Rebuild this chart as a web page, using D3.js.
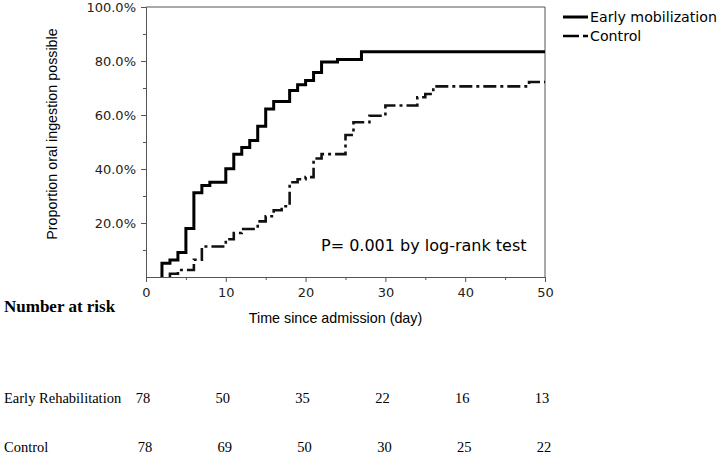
<!DOCTYPE html>
<html>
<head>
<meta charset="utf-8">
<script src="https://cdn.jsdelivr.net/npm/d3@7"></script>
<style>
  body { margin: 0; background: #fff; }
  svg { display: block; }
  .tick text { font-family: "DejaVu Sans", Verdana, sans-serif; font-size: 13px; fill: #222; }
  .axis path, .axis line { stroke: #555; }
</style>
</head>
<body>
<div id="chart"></div>
<script>
// ---- data ----
const earlyDays = [2, 3, 4, 5, 6, 7, 8, 10, 11, 12, 13, 14, 15, 16, 18, 19, 20, 21, 22, 24, 27, 50];
const earlyPct  = [5.1, 6.3, 9.1, 18.0, 31.2, 33.9, 35.1, 40.1, 45.5, 48.0, 50.6, 55.8, 62.2, 65.0, 69.1, 71.2, 72.8, 75.7, 79.6, 80.6, 83.4, 83.4];

const controlDays = [3, 4, 6, 7, 10, 11, 12, 14, 15, 16, 17, 18, 19, 20, 21, 22, 25, 26, 28, 30, 34, 35, 36, 48, 50];
const controlPct  = [1.2, 2.6, 6.4, 11.3, 14.0, 16.3, 17.8, 20.6, 22.5, 24.7, 26.2, 35.1, 36.2, 37.0, 43.9, 45.5, 52.6, 57.3, 59.7, 63.5, 66.6, 67.8, 70.6, 72.2, 72.2];

const yTicks = [20, 40, 60, 80, 100];
const yMinor = [10, 30, 50, 70, 90];
const xTicks = [0, 10, 20, 30, 40, 50];
const xMinor = [5, 15, 25, 35, 45];

const riskDays = [0, 10, 20, 30, 40, 50];
const riskEarly = [78, 50, 35, 22, 16, 13];
const riskControl = [78, 69, 50, 30, 25, 22];

const legendLabels = ["Early mobilization", "Control"];

// ---- layout ----
const width = 722, height = 458;
const plot = { left: 146, right: 545, top: 7, bottom: 277 };

const svg = d3.select("#chart").append("svg")
  .attr("width", width)
  .attr("height", height);

const x = d3.scaleLinear().domain([0, 50]).range([plot.left, plot.right]);
const y = d3.scaleLinear().domain([0, 100]).range([plot.bottom, plot.top]);

// frame (top + right)
svg.append("path")
  .attr("d", `M${plot.left},${plot.top}H${plot.right}V${plot.bottom}`)
  .attr("fill", "none")
  .attr("stroke", "#555")
  .attr("stroke-width", 1);

// axes
svg.append("g")
  .attr("class", "axis")
  .attr("transform", `translate(0,${plot.bottom})`)
  .call(d3.axisBottom(x).tickValues(xTicks).tickSize(5).tickPadding(6).tickSizeOuter(0));

svg.append("g")
  .attr("class", "axis")
  .attr("transform", `translate(0,${plot.bottom})`)
  .call(d3.axisBottom(x).tickValues(xMinor).tickSize(3).tickFormat("").tickSizeOuter(0));

svg.append("g")
  .attr("class", "axis")
  .attr("transform", `translate(${plot.left},0)`)
  .call(d3.axisLeft(y).tickValues(yTicks).tickSize(5).tickPadding(5).tickSizeOuter(0)
    .tickFormat((d) => d.toFixed(1) + "%"));

svg.append("g")
  .attr("class", "axis")
  .attr("transform", `translate(${plot.left},0)`)
  .call(d3.axisLeft(y).tickValues(yMinor).tickSize(3).tickFormat("").tickSizeOuter(0));

// axis titles
svg.append("text")
  .attr("x", (plot.left + plot.right) / 2 - 10)
  .attr("y", 323)
  .attr("text-anchor", "middle")
  .style("font-family", "'Liberation Sans', Arial, sans-serif")
  .style("font-size", "14.3px")
  .text("Time since admission (day)");

svg.append("text")
  .attr("transform", "translate(57,134) rotate(-90)")
  .attr("text-anchor", "middle")
  .style("font-family", "'Liberation Sans', Arial, sans-serif")
  .style("font-size", "14.3px")
  .text("Proportion oral ingestion possible");

// curves (step up from zero at the first event)
const line = d3.line()
  .x((d) => x(d[0]))
  .y((d) => y(d[1]))
  .curve(d3.curveStepAfter);

const earlyData = [[earlyDays[0], 0]].concat(earlyDays.map((d, i) => [d, earlyPct[i]]));
const controlData = [[controlDays[0], 0]].concat(controlDays.map((d, i) => [d, controlPct[i]]));

svg.append("path")
  .datum(controlData)
  .attr("d", line)
  .attr("fill", "none")
  .attr("stroke", "#111")
  .attr("stroke-width", 2.6)
  .attr("stroke-dasharray", "13,4,3,4");

svg.append("path")
  .datum(earlyData)
  .attr("d", line)
  .attr("fill", "none")
  .attr("stroke", "#000")
  .attr("stroke-width", 3);

// p value
svg.append("text")
  .attr("x", 321)
  .attr("y", 251)
  .style("font-family", "'DejaVu Sans', Verdana, sans-serif")
  .style("font-size", "16px")
  .text("P= 0.001 by log-rank test");

// legend
const legend = svg.append("g").attr("transform", "translate(563,0)");
legend.selectAll("line")
  .data(legendLabels)
  .enter()
  .append("line")
  .attr("x1", 0)
  .attr("x2", 25)
  .attr("y1", (d, i) => 17 + i * 19)
  .attr("y2", (d, i) => 17 + i * 19)
  .attr("stroke", "#000")
  .attr("stroke-width", (d, i) => (i == 0 ? 3 : 2.6))
  .attr("stroke-dasharray", (d, i) => (i == 0 ? null : "16,4,5,4"));

legend.selectAll("text")
  .data(legendLabels)
  .enter()
  .append("text")
  .attr("x", 27)
  .attr("y", (d, i) => 22 + i * 19)
  .style("font-family", "'DejaVu Sans', Verdana, sans-serif")
  .style("font-size", "14.2px")
  .text((d) => d);

// number at risk table
const serif = "'Liberation Serif', 'Times New Roman', serif";
svg.append("text")
  .attr("x", 4)
  .attr("y", 312)
  .style("font-family", serif)
  .style("font-size", "17px")
  .style("font-weight", "bold")
  .text("Number at risk");

const rows = [
  { label: "Early Rehabilitation", values: riskEarly, y: 403, dx: -3 },
  { label: "Control", values: riskControl, y: 452, dx: -1 },
];

rows.forEach((row) => {
  svg.append("text")
    .attr("x", 4)
    .attr("y", row.y)
    .style("font-family", serif)
    .style("font-size", "14.5px")
    .text(row.label);

  svg.selectAll(null)
    .data(row.values)
    .enter()
    .append("text")
    .attr("x", (d, i) => x(riskDays[i]) + row.dx)
    .attr("y", row.y)
    .attr("text-anchor", "middle")
    .style("font-family", serif)
    .style("font-size", "14.5px")
    .text((d) => d);
});
</script>
</body>
</html>
